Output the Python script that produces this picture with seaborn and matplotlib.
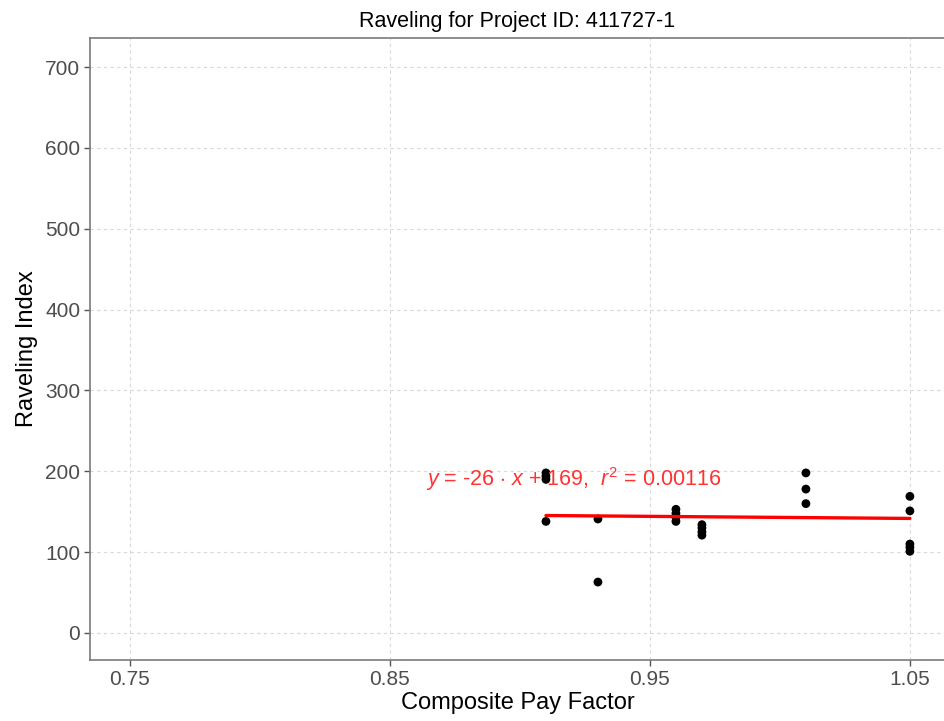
"""
Raveling index vs composite pay factor for project 411727-1
"""

import matplotlib.pyplot as plt
import seaborn as sns
import pandas as pd

# composite pay factor and raveling index of each section
pay_factor = [0.91, 0.91, 0.91, 0.91,
              0.93, 0.93,
              0.96, 0.96, 0.96, 0.96,
              0.97, 0.97, 0.97, 0.97,
              1.01, 1.01, 1.01,
              1.05, 1.05, 1.05, 1.05, 1.05]
raveling = [198, 194, 190, 138,
            141, 63,
            153, 148, 143, 138,
            134, 130, 125, 121,
            198, 178, 160,
            169, 151, 110, 106, 101]

# fitted line end points
fit_x = [0.91, 1.05]
fit_y = [145.3, 141.7]

x_ticks = [0.75, 0.85, 0.95, 1.05]
y_ticks = [0, 100, 200, 300, 400, 500, 600, 700]
eq_label = r'$y$ = -26 $\cdot$ $x$ + 169,  $r^2$ = 0.00116'

df = pd.DataFrame({'cpf': pay_factor, 'ri': raveling})
fit = pd.DataFrame({'cpf': fit_x, 'ri': fit_y})

sns.set_theme(style='whitegrid')
plt.rcParams['font.family'] = ['Liberation Sans', 'DejaVu Sans']
plt.rcParams['mathtext.fontset'] = 'custom'
plt.rcParams['mathtext.it'] = 'Liberation Sans:italic'
plt.rcParams['mathtext.rm'] = 'Liberation Sans'

fig = plt.figure(figsize=(9.45, 7.21), dpi=100)
ax = fig.add_axes([0.0952, 0.0846, 0.9048, 0.8627])

sns.scatterplot(data=df, x='cpf', y='ri', color='black', s=40, edgecolor='none', ax=ax, zorder=3)
sns.lineplot(data=fit, x='cpf', y='ri', color='#ff0000', linewidth=2.4, ax=ax, zorder=4)

ax.text(0.9205, 190, eq_label, color='#ff3333', fontsize=15.5, ha='center', va='center', zorder=5)

ax.set(xlim=(0.7346, 1.0635), ylim=(-33.4, 735.9))
ax.set_xticks(x_ticks)
ax.set_xticklabels(['0.75', '0.85', '0.95', '1.05'])
ax.set_yticks(y_ticks)
ax.grid(True, color='#d9d9d9', linestyle=(0, (3, 3)), linewidth=0.8)
ax.tick_params(axis='both', colors='#555555', labelcolor='#4d4d4d', labelsize=15,
               length=4, width=1, direction='out', bottom=True, left=True, pad=3)
for side in ['left', 'top', 'bottom']:
    ax.spines[side].set_color('#7a7a7a')
    ax.spines[side].set_linewidth(1.2)
ax.spines['right'].set_visible(False)

ax.set_xlabel('Composite Pay Factor', fontsize=17, color='black', labelpad=2)
ax.set_ylabel('Raveling Index', fontsize=17, color='black', labelpad=5)
ax.set_title('Raveling for Project ID: 411727-1', fontsize=15.5, color='black', pad=8)

fig.savefig('out.png', dpi=100)
